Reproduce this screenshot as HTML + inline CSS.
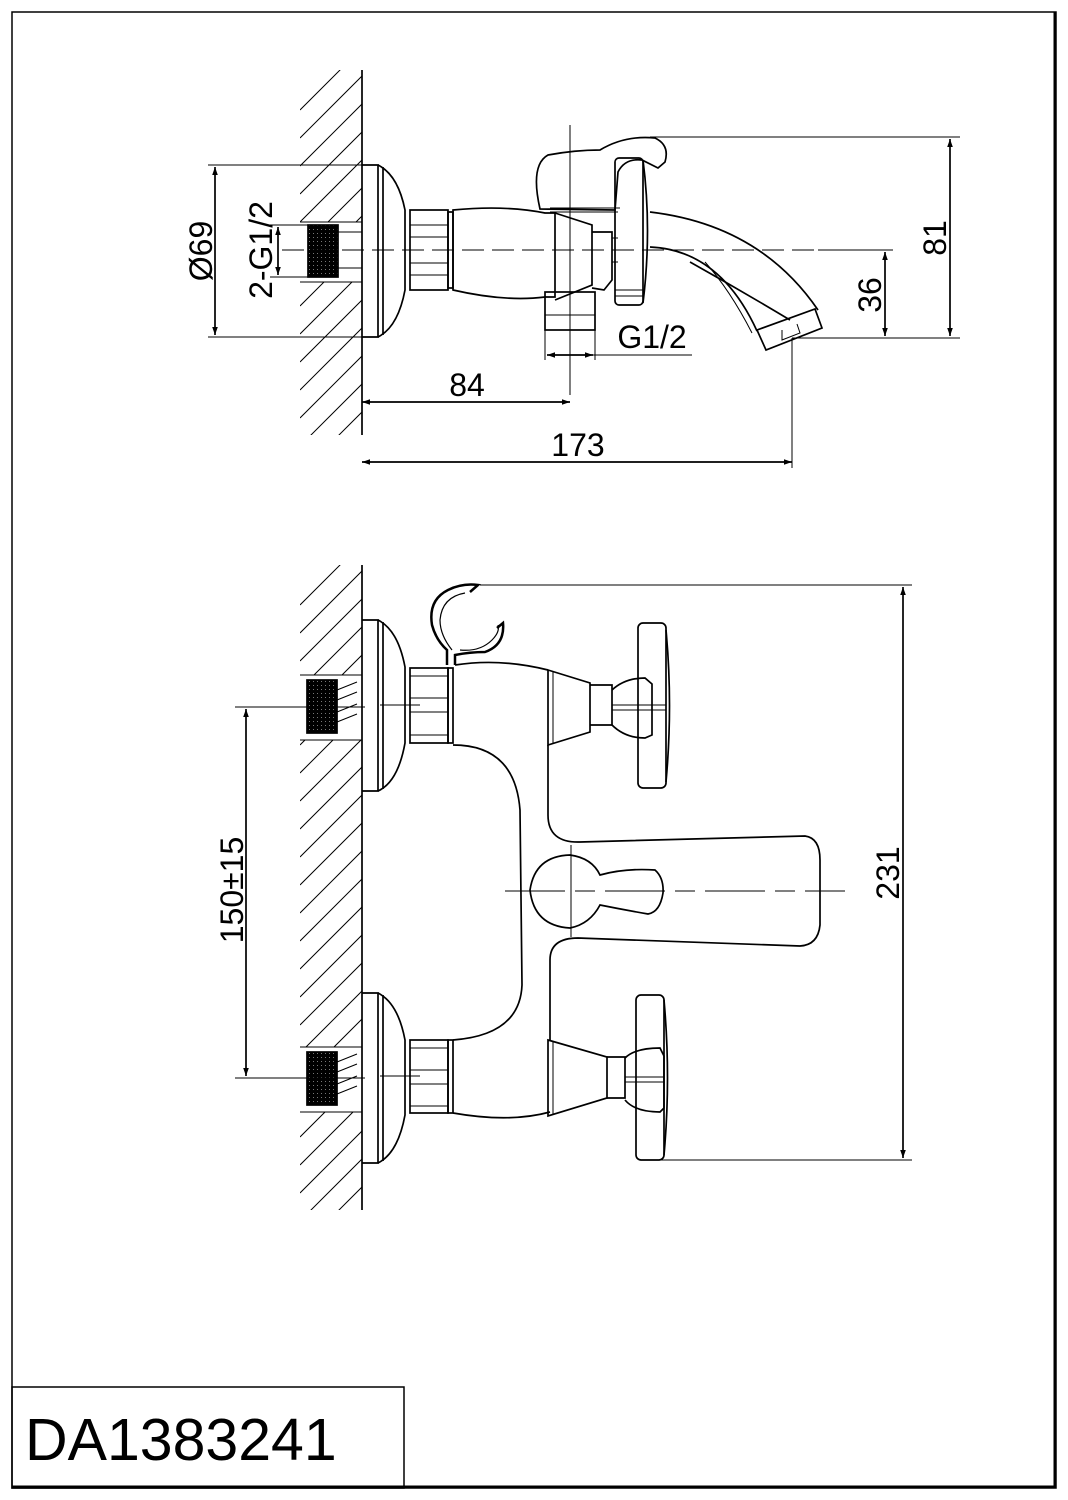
<!DOCTYPE html>
<html><head><meta charset="utf-8"><style>
html,body{margin:0;padding:0;background:#fff}
svg{display:block}
text{font-family:"Liberation Sans",Arial,sans-serif;fill:#000}
</style></head><body>
<svg width="1068" height="1500" viewBox="0 0 1068 1500" xmlns="http://www.w3.org/2000/svg">
<defs>
<marker id="a" viewBox="0 0 10 10" refX="10" refY="5" markerWidth="16" markerHeight="8" markerUnits="userSpaceOnUse" orient="auto-start-reverse"><path d="M0,1.5 L10,5 L0,8.5 Z" fill="#000"/></marker>
<pattern id="th" width="4" height="4" patternUnits="userSpaceOnUse"><rect width="4" height="4" fill="#000"/><rect x="1" y="1" width="1" height="1" fill="#777"/></pattern>
<clipPath id="h1"><path d="M300,70 H362 V222 H300 Z M300,282 H362 V435 H300 Z"/></clipPath>
<clipPath id="h2"><path d="M300,565 H362 V675 H300 Z M300,740 H362 V1047 H300 Z M300,1112 H362 V1210 H300 Z"/></clipPath>
</defs>
<rect width="1068" height="1500" fill="#fff"/>
<rect x="12" y="12" width="1044" height="1476" fill="none" stroke="#000" stroke-width="1.5"/>
<line x1="12" y1="1487" x2="1056" y2="1487" stroke="#000" stroke-width="3"/>
<line x1="1055" y1="12" x2="1055" y2="1488" stroke="#000" stroke-width="3"/>
<rect x="12" y="1387" width="392" height="101" fill="none" stroke="#000" stroke-width="1.5"/>
<text x="25" y="1460" font-size="59">DA1383241</text>

<g fill="none" stroke="#000" stroke-width="1.7">
<line x1="362" y1="70" x2="362" y2="435"/>
<g clip-path="url(#h1)" stroke-width="1">
<path d="M300,110 L362,48 M300,138 L362,76 M300,166 L362,104 M300,194 L362,132 M300,222 L362,160 M300,250 L362,188 M300,278 L362,216 M300,306 L362,244 M300,334 L362,272 M300,362 L362,300 M300,390 L362,328 M300,418 L362,356 M300,446 L362,384 M300,474 L362,412"/>
</g>
<path d="M300,222 H362 M300,282 H362" stroke-width="1"/>
<rect x="308" y="225" width="30" height="52" fill="url(#th)" stroke="#000"/>
<path d="M338,232 H362 M338,268 H362" stroke-width="1"/>
<path d="M362,165 H378 V337 H362"/>
<path d="M378,165 Q398,175 405,210 L405,290 Q398,327 378,337"/>
<line x1="383" y1="167" x2="383" y2="335"/>
<rect x="410" y="210" width="38" height="80"/>
<path d="M410,225 H448 M410,237 H448 M410,263 H448 M410,275 H448" stroke-width="1"/>
<rect x="448" y="212" width="5" height="76"/>
<path d="M453,210 Q505,205 545,213 L555,213 L555,297 L545,297 Q505,302 453,290 Z"/>
<path d="M555,213 L592,225 L592,285 L555,300"/>
<path d="M592,232 L612,232 L612,280 L604,290 L592,288"/>
<path d="M540,209 Q530,165 548,155 Q575,150 600,150 Q625,135 655,138 Q670,145 665,162 L658,168 L642,160 Q625,158 618,172 L615,210 Z"/>
<path d="M550,212 L618,212 M550,208 L620,208" stroke-width="1"/>
<rect x="615" y="158" width="28" height="147" rx="4"/>
<path d="M643,160 Q652,230 643,303"/>
<path d="M612,238 H618 M612,262 H618 M615,290 H643 M615,296 H643" stroke-width="1"/>
<rect x="545" y="292" width="50" height="38"/>
<path d="M545,315 H595" stroke-width="1"/>
<path d="M650,212 Q760,225 818,310"/>
<path d="M650,247 Q720,250 757,331"/>
<path d="M690,262 Q740,290 790,320"/>
<path d="M705,262 Q730,290 752,333" stroke-width="1"/>
<path d="M757,330 L815,309 L822,328 L766,350 Z"/>
<path d="M782,330 L782,340 L800,333 L797,324" stroke-width="1"/>
<line x1="282" y1="250" x2="893" y2="250" stroke-width="1" stroke-dasharray="22,8"/>
<line x1="570" y1="125" x2="570" y2="395" stroke-width="1"/>
<path d="M208,165 H362 M208,337 H362" stroke-width="1"/>
<line x1="215" y1="167" x2="215" y2="335" marker-start="url(#a)" marker-end="url(#a)"/>
<path d="M270,225 H308 M270,277 H308" stroke-width="1"/>
<line x1="278" y1="227" x2="278" y2="275" marker-start="url(#a)" marker-end="url(#a)"/>
<line x1="362" y1="402" x2="570" y2="402" marker-start="url(#a)" marker-end="url(#a)"/>
<line x1="362" y1="462" x2="792" y2="462" marker-start="url(#a)" marker-end="url(#a)"/>
<path d="M792,338 V468 M545,330 V360 M595,330 V360" stroke-width="1"/>
<line x1="547" y1="355" x2="593" y2="355" marker-start="url(#a)" marker-end="url(#a)"/>
<path d="M593,355 H692" stroke-width="1"/>
<path d="M650,137 H960 M792,338 H960 M818,250 H893" stroke-width="1"/>
<line x1="950" y1="139" x2="950" y2="336" marker-start="url(#a)" marker-end="url(#a)"/>
<line x1="885" y1="252" x2="885" y2="336" marker-start="url(#a)" marker-end="url(#a)"/>

<line x1="362" y1="565" x2="362" y2="1210"/>
<g clip-path="url(#h2)" stroke-width="1">
<path d="M300,605 L362,543 M300,633 L362,571 M300,661 L362,599 M300,689 L362,627 M300,717 L362,655 M300,745 L362,683 M300,773 L362,711 M300,801 L362,739 M300,829 L362,767 M300,857 L362,795 M300,885 L362,823 M300,913 L362,851 M300,941 L362,879 M300,969 L362,907 M300,997 L362,935 M300,1025 L362,963 M300,1053 L362,991 M300,1081 L362,1019 M300,1109 L362,1047 M300,1137 L362,1075 M300,1165 L362,1103 M300,1193 L362,1131 M300,1221 L362,1159 M300,1249 L362,1187"/>
</g>
<path d="M300,675 H362 M300,740 H362 M300,1047 H362 M300,1112 H362" stroke-width="1"/>
<rect x="307" y="680" width="30" height="53" fill="url(#th)" stroke="#000"/>
<rect x="307" y="1052" width="30" height="53" fill="url(#th)" stroke="#000"/>
<path d="M337,690 L357,682 M337,700 L357,692 M337,712 L357,704 M337,722 L357,714 M337,1062 L357,1054 M337,1072 L357,1064 M337,1084 L357,1076 M337,1094 L357,1086" stroke-width="1"/>
<path d="M362,620 H378 V791 H362"/>
<path d="M378,620 Q398,630 405,667 L405,743 Q398,782 378,791"/>
<line x1="383" y1="622" x2="383" y2="789"/>
<path d="M362,993 H378 V1163 H362"/>
<path d="M378,993 Q398,1003 405,1040 L405,1115 Q398,1153 378,1163"/>
<line x1="383" y1="995" x2="383" y2="1161"/>
<rect x="410" y="668" width="38" height="75"/>
<path d="M410,676 H448 M410,698 H448 M410,712 H448 M410,735 H448" stroke-width="1"/>
<rect x="448" y="668" width="5" height="75"/>
<rect x="410" y="1040" width="38" height="73"/>
<path d="M410,1048 H448 M410,1070 H448 M410,1084 H448 M410,1106 H448" stroke-width="1"/>
<rect x="448" y="1040" width="5" height="73"/>
<path d="M447,665 L447,650 Q436,640 432,625 Q428,600 448,590 Q462,583 478,585 L470,592" stroke-width="2.5"/>
<path d="M455,665 L455,655 Q470,652 485,652 Q505,645 503,623 L497,628" stroke-width="2.5"/>
<path d="M452,650 Q440,635 440,620 Q442,597 465,593 M460,650 Q480,652 492,640 Q500,632 498,625" stroke-width="1.2"/>
<path d="M455,665 Q500,658 548,670"/>
<path d="M453,745 Q515,745 520,810 L522,985 Q520,1035 453,1040"/>
<path d="M548,745 L548,815 Q548,843 580,842 L805,836 Q820,838 820,860 L820,925 Q818,945 800,946 L578,938 Q550,938 550,960 L550,1040"/>
<path d="M453,1113 Q510,1123 550,1112"/>
<path d="M548,670 L590,683 L590,732 L548,745 Z"/>
<line x1="553" y1="671" x2="553" y2="744" stroke-width="1"/>
<path d="M548,1040 L607,1057 L607,1098 L548,1116 Z"/>
<line x1="553" y1="1041" x2="553" y2="1115" stroke-width="1"/>
<path d="M590,685 H612 V725 H590 M607,1057 H625 V1098 H607"/>
<path d="M612,690 Q625,678 645,678 L652,684 L652,735 L645,738 Q625,738 612,725"/>
<rect x="638" y="623" width="28" height="165" rx="5"/>
<path d="M666,630 Q673,705 666,782"/>
<path d="M612,705 H666 M612,710 H666" stroke-width="1"/>
<path d="M625,1058 Q635,1048 660,1048 L664,1056 L664,1108 L660,1112 Q635,1112 625,1100"/>
<rect x="636" y="995" width="28" height="165" rx="5"/>
<path d="M664,1000 Q671,1078 664,1155"/>
<path d="M625,1077 H664 M625,1082 H664" stroke-width="1"/>
<path d="M600,875 Q625,868 655,870 Q664,878 663,893 Q660,912 648,914 Q625,910 600,905 Q590,924 570,928 Q534,926 530,890 Q535,856 570,855 Q592,858 600,875 Z"/>
<path d="M235,707 H365 M235,1078 H365" stroke-width="1"/>
<path d="M380,705 H420 M380,1076 H420" stroke-width="1"/>
<line x1="505" y1="891" x2="845" y2="891" stroke-width="1" stroke-dasharray="60,10,20,10"/>
<line x1="571" y1="845" x2="571" y2="937" stroke-width="1"/>
<line x1="246" y1="709" x2="246" y2="1076" marker-start="url(#a)" marker-end="url(#a)"/>
<path d="M480,585 H912 M655,1160 H912" stroke-width="1"/>
<line x1="903" y1="587" x2="903" y2="1158" marker-start="url(#a)" marker-end="url(#a)"/>
</g>

<text x="467" y="396" font-size="32" text-anchor="middle">84</text>
<text x="578" y="456" font-size="32" text-anchor="middle">173</text>
<text x="652" y="348" font-size="32" text-anchor="middle">G1/2</text>
<text transform="translate(212,251) rotate(-90)" font-size="32" text-anchor="middle">Ø69</text>
<text transform="translate(272,250) rotate(-90)" font-size="32" text-anchor="middle">2-G1/2</text>
<text transform="translate(946,238) rotate(-90)" font-size="32" text-anchor="middle">81</text>
<text transform="translate(881,295) rotate(-90)" font-size="32" text-anchor="middle">36</text>
<text transform="translate(243,890) rotate(-90)" font-size="32" text-anchor="middle">150±15</text>
<text transform="translate(899,873) rotate(-90)" font-size="32" text-anchor="middle">231</text>
</svg>
</body></html>
